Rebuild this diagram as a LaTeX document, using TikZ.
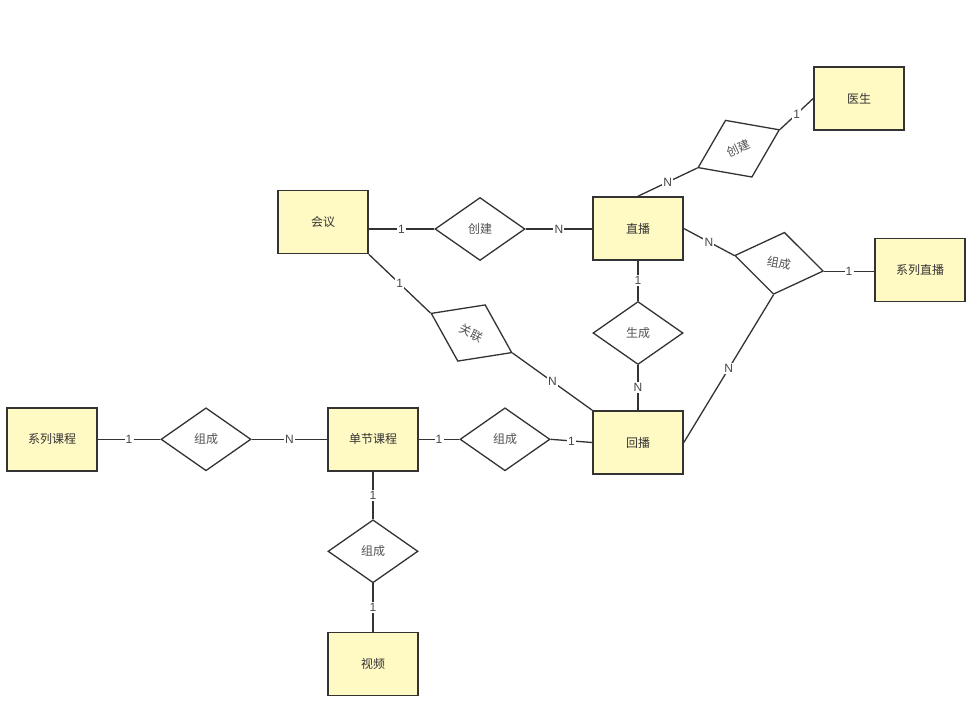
\documentclass[tikz,border=0pt]{standalone}
\usepackage{fontspec}
\setmainfont{Liberation Sans}
\newfontfamily\cjk{Noto Sans CJK SC}
\usetikzlibrary{shapes.geometric}
\definecolor{boxfill}{HTML}{FFF9C4}
\definecolor{ink}{HTML}{333333}
\pgfdeclarelayer{bg}
\pgfsetlayers{bg,main}
\tikzset{
  entity/.style={draw=ink, line width=1.6pt, fill=boxfill, minimum width=90pt, minimum height=63pt, inner sep=0pt, font=\cjk\fontsize{12}{14}\selectfont, text=ink},
  rel/.style={draw=ink, line width=1.3pt, fill=white, shape=diamond, minimum width=90pt, minimum height=63pt, inner sep=0pt, font=\cjk\fontsize{12}{14}\selectfont, text=ink!85},
  conn/.style={draw=ink, line width=1.3pt},
  card/.style={midway, fill=white, inner sep=1.2pt, font=\fontsize{12}{14}\selectfont, text=ink!90}
}
\begin{document}
\begin{tikzpicture}[x=1pt,y=-1pt]
\useasboundingbox (0,0) rectangle (970,704);
% entities
\node[entity] (ys) at (859,98.5) {医生};
\node[entity] (hy) at (323,222) {会议};
\node[entity] (zb) at (638,228.5) {直播};
\node[entity] (xlzb) at (920,270) {系列直播};
\node[entity] (hb) at (638,442.5) {回播};
\node[entity] (xlkc) at (52,439.3) {系列课程};
\node[entity] (djkc) at (373,439.3) {单节课程};
\node[entity] (sp) at (373,664) {视频};
% relations
\node[rel] (cja) at (480,229) {创建};
\node[rel, rotate=25] (cjb) at (738.7,148.7) {创建};
\node[rel, rotate=-10] (zca) at (779,263.3) {组成};
\node[rel] (sc) at (638,333) {生成};
\node[rel, rotate=-26] (gl) at (471.5,333) {关联};
\node[rel] (zcb) at (206,439.3) {组成};
\node[rel] (zcc) at (505,439.3) {组成};
\node[rel] (zcd) at (373,551.3) {组成};
% connectors
\begin{pgfonlayer}{bg}
\fill[white] (0,0) rectangle (970,704);
\draw[conn] (hy.east |- cja.west) -- (cja.west) node[card] {1};
\draw[conn] (cja.east) -- (zb.west |- cja.east) node[card] {N};
\draw[conn] (zb.north) -- (cjb.west) node[card] {N};
\draw[conn] (cjb.east) -- (ys.west) node[card] {1};
\draw[conn] (zb.east) -- (zca.west) node[card] {N};
\draw[conn] (zca.east) -- (xlzb.west |- zca.east) node[card] {1};
\draw[conn] (zca.south) -- (hb.east) node[card] {N};
\draw[conn] (hy.south east) -- (gl.west) node[card] {1};
\draw[conn] (gl.east) -- (hb.north west) node[card] {N};
\draw[conn] (zb.south) -- (sc.north) node[card] {1};
\draw[conn] (sc.south) -- (hb.north) node[card] {N};
\draw[conn] (xlkc.east) -- (zcb.west) node[card] {1};
\draw[conn] (zcb.east) -- (djkc.west) node[card] {N};
\draw[conn] (djkc.east) -- (zcc.west) node[card] {1};
\draw[conn] (zcc.east) -- (hb.west) node[card] {1};
\draw[conn] (djkc.south) -- (zcd.north) node[card] {1};
\draw[conn] (zcd.south) -- (sp.north) node[card] {1};
\end{pgfonlayer}
\end{tikzpicture}
\end{document}
